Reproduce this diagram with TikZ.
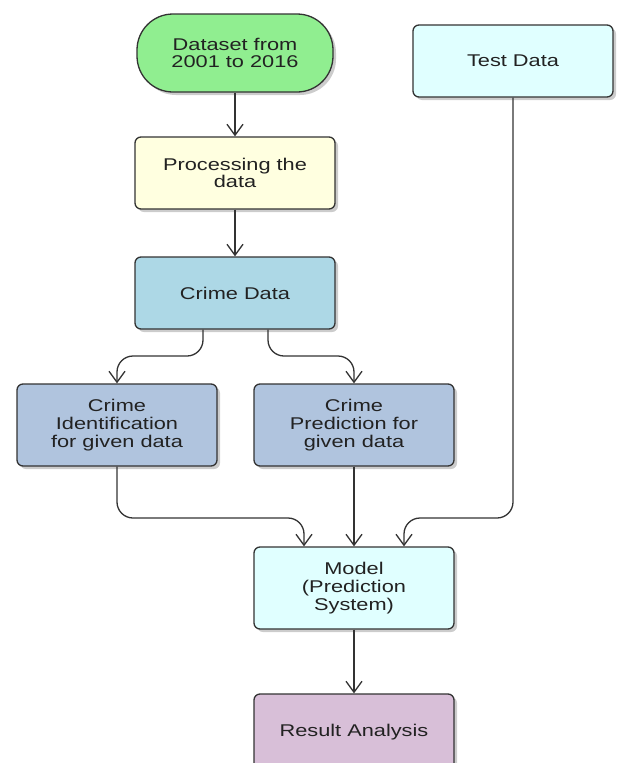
\documentclass[tikz,border=0pt]{standalone}
\usepackage{fontspec}
\setmainfont{Liberation Sans}[FakeStretch=1.28]
\usetikzlibrary{arrows.meta,shadows}
\definecolor{edgec}{HTML}{333333}
\definecolor{textc}{HTML}{222222}
\definecolor{cgreen}{HTML}{90EE90}
\definecolor{cyellow}{HTML}{FFFFE0}
\definecolor{cblue}{HTML}{ADD8E6}
\definecolor{csteel}{HTML}{B0C4DE}
\definecolor{ccyan}{HTML}{E0FFFF}
\definecolor{cthistle}{HTML}{D8BFD8}
\tikzset{
  box/.style={draw=edgec, line width=1.3pt, rounded corners=6pt, minimum width=200pt,
    minimum height=72pt, align=center, text=textc,
    font=\fontsize{17}{17.8}\selectfont,
    drop shadow={shadow xshift=3pt, shadow yshift=-3pt, opacity=0.2, fill=black}},
  conn/.style={draw=edgec, line width=1.3pt, rounded corners=16pt,
    -{Straight Barb[length=11pt,width=16pt,line width=1.3pt]}}
}
\begin{document}
\begin{tikzpicture}[x=1pt,y=-1pt]
\clip (0,0) rectangle (622,763);
\fill[white] (0,0) rectangle (622,763);
\node[box, fill=cgreen, rounded corners=36pt, minimum width=196pt, minimum height=78pt] (ds) at (235,53) {Dataset from\\2001 to 2016};
\node[box, fill=ccyan] (test) at (513,61) {Test Data};
\node[box, fill=cyellow] (proc) at (235,173) {Processing the\\data};
\node[box, fill=cblue] (crime) at (235,293) {Crime Data};
\node[box, fill=csteel, minimum height=82pt] (ident) at (117,425) {Crime\\Identification\\for given data};
\node[box, fill=csteel, minimum height=82pt] (pred) at (354,425) {Crime\\Prediction for\\given data};
\node[box, fill=ccyan, minimum height=82pt] (model) at (354,588) {Model\\(Prediction\\System)};
\node[box, fill=cthistle, minimum height=76pt] (res) at (354,732) {Result Analysis};
\draw[conn] (ds) -- (proc);
\draw[conn] (proc) -- (crime);
\draw[conn] (crime.south -| 203,0) -- (203,356) -- (117,356) -- (ident.north);
\draw[conn] (crime.south -| 268,0) -- (268,356) -- (354,356) -- (pred.north);
\draw[conn] (ident.south) -- (117,518) -- (304,518) -- (model.north -| 304,0);
\draw[conn] (pred) -- (model);
\draw[conn] (test.south) -- (513,518) -- (404,518) -- (model.north -| 404,0);
\draw[conn] (model) -- (res);
\end{tikzpicture}
\end{document}
